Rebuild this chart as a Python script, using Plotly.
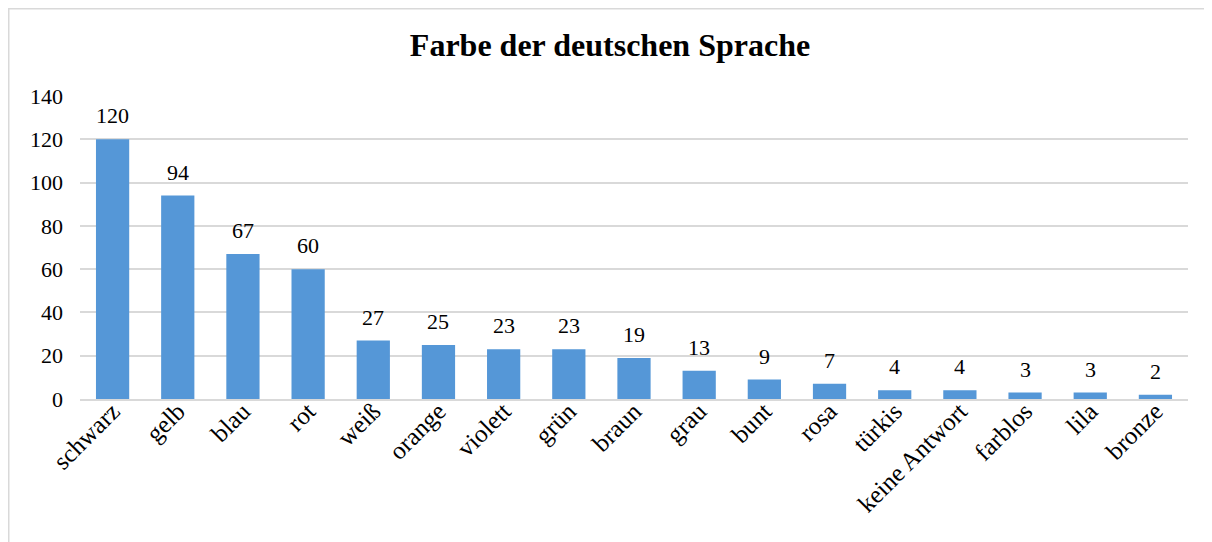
import plotly.graph_objects as go

farben = ["schwarz", "gelb", "blau", "rot", "weiß", "orange", "violett", "grün",
          "braun", "grau", "bunt", "rosa", "türkis", "keine Antwort", "farblos",
          "lila", "bronze"]
anzahl = [120, 94, 67, 60, 27, 25, 23, 23, 19, 13, 9, 7, 4, 4, 3, 3, 2]

fig = go.Figure()
fig.add_trace(go.Bar(
    x=farben, y=anzahl,
    marker=dict(color="#5597d7", line=dict(width=0)),
))

# value labels above the bars
for f, n in zip(farben, anzahl):
    fig.add_annotation(x=f, y=n, text=str(n), showarrow=False,
                       yanchor="bottom", yshift=9,
                       font=dict(family="Liberation Serif", size=22, color="black"))

# page body has an 8px margin, so the figure is a bit smaller than the window
fig.update_layout(
    width=1204, height=534,
    margin=dict(l=72, r=24, t=88, b=143),
    paper_bgcolor="white", plot_bgcolor="white",
    font=dict(family="Liberation Serif", size=22, color="black"),
    title=dict(text="<b>Farbe der deutschen Sprache</b>", x=0.5, xanchor="center",
               y=0.931, yanchor="middle",
               font=dict(family="Liberation Serif", size=32, color="black")),
    bargap=0.49,
    showlegend=False,
    shapes=[dict(type="rect", xref="paper", yref="paper",
                 x0=-0.0643, x1=1.0153, y0=-0.5, y1=1.288,
                 line=dict(color="#d9d9d9", width=1.5), fillcolor="rgba(0,0,0,0)",
                 layer="below")],
)
fig.update_xaxes(tickangle=-45, showline=True, linecolor="#d9d9d9", linewidth=1.5,
                 ticks="", tickfont=dict(size=25), automargin=False,
                 ticklabelstandoff=-14)
fig.update_yaxes(range=[0, 140], dtick=20, showgrid=True, gridcolor="#d9d9d9",
                 gridwidth=1.5, zeroline=False, ticks="", tickfont=dict(size=22),
                 ticklabelstandoff=16, automargin=False)

fig.write_html("out.html")
